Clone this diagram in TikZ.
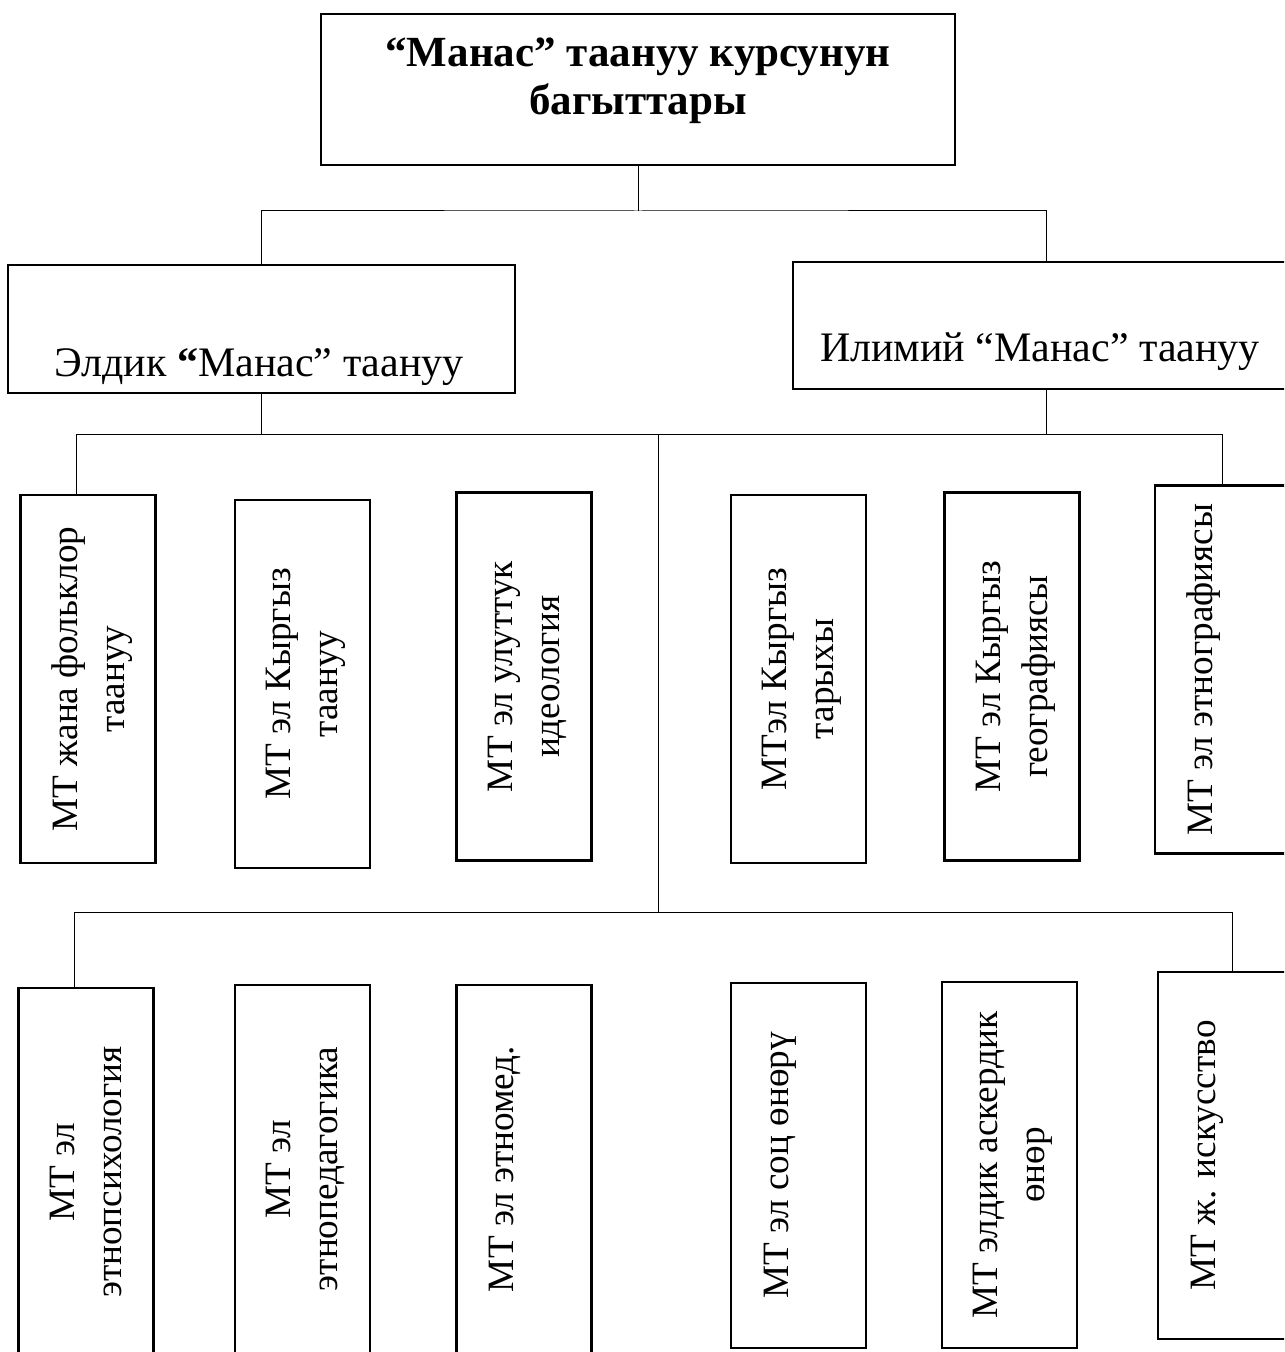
\documentclass[tikz,border=0pt]{standalone}
\usepackage{fontspec}
\setmainfont{Liberation Serif}
\begin{document}
\begin{tikzpicture}[x=0.5pt,y=-0.5pt,
	frame/.style={draw,line width=1.2pt},
	box/.style={draw,line width=1.2pt,minimum width=67.5pt,minimum height=184pt},
	lbl/.style={rotate=90,anchor=north,align=center,font=\fontsize{18.6}{23.5}\selectfont,
		execute at begin node=\rule{0pt}{13pt}},
	big/.style={anchor=base,font=\fontsize{21}{25}\selectfont},
	link/.style={line width=0.5pt}]
	\tikzstyle{every node}+=[inner sep=0pt]
	\useasboundingbox (0,0) rectangle (1284,1352);
	\clip (0,0) rectangle (1284,1352);
	% top level
	\node [frame,minimum width=317pt,minimum height=75.5pt] (kurs) at (638,89.5) {};
	\node [anchor=north,align=center,font=\bfseries\fontsize{21.5}{24}\selectfont] at (638,38) {“Манас” таануу курсунун\\багыттары};
	\node [frame,minimum width=253.5pt,minimum height=64pt] (eldik) at (261.5,329) {};
	\node [big] at (259,377) {Элдик \textbf{“}Манас” таануу};
	\node [frame,minimum width=253pt,minimum height=63.5pt] (ilimiy) at (1046,325.5) {};
	\node [big] at (1040,362) {Илимий “Манас” таануу};
	% first row
	\node [box] (folk) at (88,679) {};
	\node [box] (kyrg) at (302.5,684) {};
	\node [box] (ideo) at (524,676.5) {};
	\node [box] (tarykh) at (798.5,679) {};
	\node [box] (geog) at (1012,676.5) {};
	\node [box] (etnog) at (1222.5,669.5) {};
	\node [lbl] at ([xshift=16pt]folk.west) {МТ жана фольклор\\таануу};
	\node [lbl] at ([xshift=16pt]kyrg.west) {МТ эл Кыргыз\\таануу};
	\node [lbl] at ([xshift=16pt]ideo.west) {МТ эл улуттук\\идеология};
	\node [lbl] at ([xshift=16pt]tarykh.west) {МТэл Кыргыз\\тарыхы};
	\node [lbl] at ([xshift=16pt]geog.west) {МТ эл Кыргыз\\географиясы};
	\node [lbl] at ([xshift=16pt]etnog.west) {МТ эл этнографиясы};
	% second row
	\node [box] (psikh) at (86,1172) {};
	\node [box] (ped) at (302.5,1169) {};
	\node [box] (med) at (524,1169) {};
	\node [box,minimum height=182.5pt] (soc) at (798.5,1165.5) {};
	\node [box,minimum height=183pt] (asker) at (1009.5,1165) {};
	\node [box,minimum height=183.5pt] (iskus) at (1225.5,1155.5) {};
	\node [lbl] at ([xshift=16pt]psikh.west) {МТ эл\\этнопсихология};
	\node [lbl] at ([xshift=16pt]ped.west) {МТ эл\\этнопедагогика};
	\node [lbl] at ([xshift=16pt]med.west) {МТ эл этномед.};
	\node [lbl] at ([xshift=16pt]soc.west) {МТ эл соц өнөрү};
	\node [lbl] at ([xshift=16pt]asker.west) {МТ элдик аскердик\\өнөр};
	\node [lbl] at ([xshift=16pt]iskus.west) {МТ ж. искусство};
	% connectors
	\coordinate (busA) at (638,211);
	\coordinate (busB) at (658,434);
	\coordinate (busBl) at (76,434);
	\coordinate (busC) at (658,912);
	\coordinate (busCl) at (74,912);
	\coordinate (busCr) at (1232,912);
	\draw [link] (kurs.south) -- (busA);
	\draw [link] (eldik.north) |- (busA) -| (ilimiy.north);
	\draw [link] (eldik.south) -- (eldik.south |- busB);
	\draw [link] (ilimiy.south) -- (ilimiy.south |- busB);
	\draw [link] (busBl |- folk.north) -- (busBl) -| (etnog.north);
	\draw [link] (busB) -- (busC);
	\draw [link] (busCl |- psikh.north) -- (busCl) -- (busCr) -- (busCr |- iskus.north);
\end{tikzpicture}
\end{document}
